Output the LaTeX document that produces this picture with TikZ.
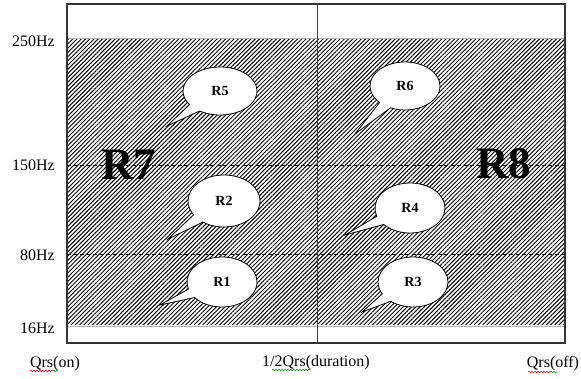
\documentclass[tikz,border=0pt]{standalone}
\usepackage{fontspec}
\setmainfont{Liberation Serif}
\usetikzlibrary{patterns.meta,shapes.callouts,decorations.pathmorphing}
\begin{document}
\begin{tikzpicture}[x=1pt,y=-1pt,
 lbl/.style={font=\fontsize{16}{18}\selectfont, inner sep=0pt},
 hz/.style={lbl, anchor=east},
 bubble/.style={ellipse callout, draw=black, line width=0.8pt, fill=white, inner sep=0pt,
   font=\bfseries\fontsize{14}{16}\selectfont, callout pointer arc=22},
 big/.style={font=\bfseries\fontsize{45}{50}\selectfont, inner sep=0pt},
 divider/.style={line width=0.9pt, dash pattern=on 4pt off 2.5pt},
 squig/.style={decorate, decoration={snake, amplitude=0.8pt, segment length=3pt}, line width=0.6pt}]
\useasboundingbox (0,0) rectangle (581,379);
% hatched band
\fill[pattern={Lines[angle=45,distance=3pt,line width=0.95pt]}] (67,40) rectangle (565,325);
\draw[gray!60, line width=1pt] (67,39) -- (565,39) (67,326.5) -- (565,326.5);
% frame and dividers
\draw[line width=1.3pt, black!80] (67,4) rectangle (565,343);
\draw[line width=1pt, black!75] (317,4) -- (317,343);
\draw[divider] (67,165) -- (565,165);
\draw[divider] (67,254) -- (565,254);
% big region labels
\node[big] (r7) at (129,165) {R7};
\node[big] (r8) at (504,164) {R8};
% callouts
\coordinate (t5) at (167,126);
\coordinate (t6) at (355,134);
\coordinate (t2) at (168,239);
\coordinate (t4) at (345,235);
\coordinate (t1) at (160,305);
\coordinate (t3) at (362,312);
\node[bubble, minimum width=74pt, minimum height=48pt, callout absolute pointer={(t5)}] (r5) at (220,91) {R5};
\node[bubble, minimum width=70pt, minimum height=48pt, callout absolute pointer={(t6)}] (r6) at (405,86) {R6};
\node[bubble, minimum width=72pt, minimum height=52pt, callout absolute pointer={(t2)}] (r2) at (224,201) {R2};
\node[bubble, minimum width=70pt, minimum height=50pt, callout absolute pointer={(t4)}] (r4) at (410,208) {R4};
\node[bubble, minimum width=70pt, minimum height=50pt, callout absolute pointer={(t1)}] (r1) at (222,282) {R1};
\node[bubble, minimum width=70pt, minimum height=50pt, callout absolute pointer={(t3)}] (r3) at (413,282) {R3};
% axis labels
\node[hz] (h250) at (55,41) {250Hz};
\node[hz] (h150) at (55,165) {150Hz};
\node[hz] (h80) at (55,255) {80Hz};
\node[hz] (h16) at (55,328) {16Hz};
\node[lbl] (qon) at (55,364) {Qrs(on)};
\node[lbl] (qdur) at (316,363) {1/2Qrs(duration)};
\node[lbl] (qoff) at (553,364) {Qrs(off)};
% spell-check squiggles
\draw[squig, red] (30,371) -- (53,371);
\draw[squig, green!60!black] (53,371) -- (58,371);
\draw[squig, green!60!black] (272,370) -- (311,370);
\draw[squig, red] (528,372) -- (550,372);
\draw[squig, green!60!black] (550,372) -- (557,372);
\end{tikzpicture}
\end{document}
